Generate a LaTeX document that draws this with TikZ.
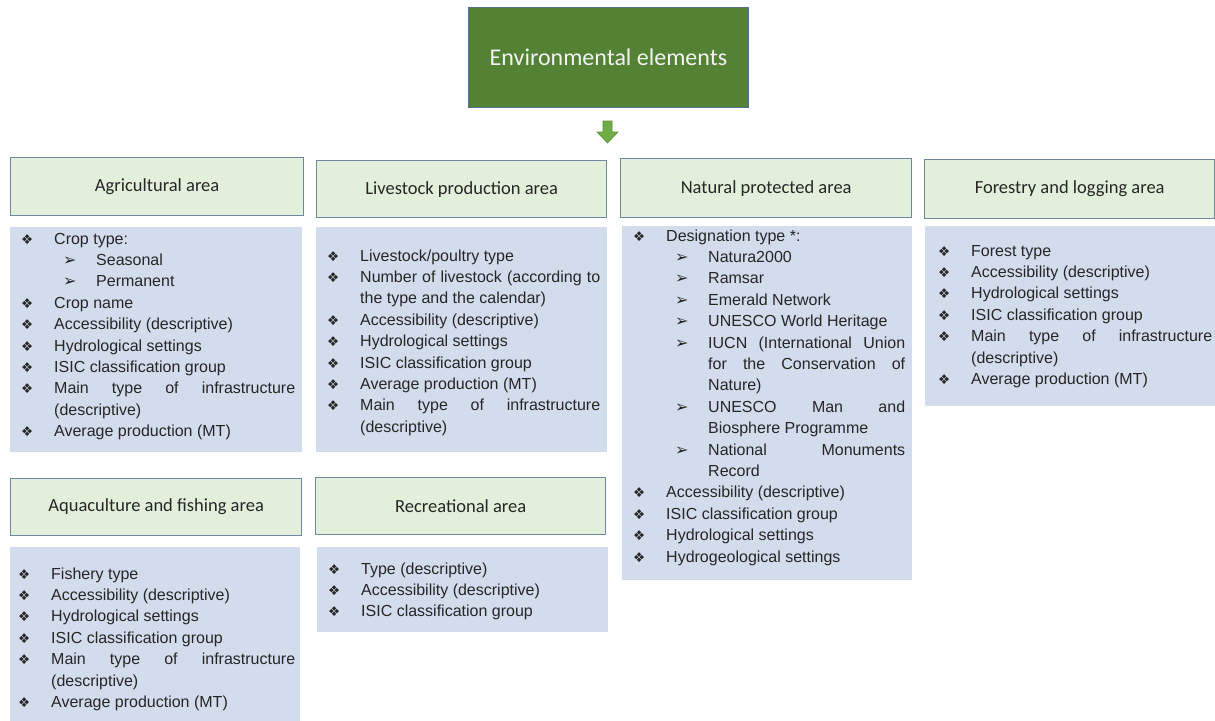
\documentclass[tikz,border=0pt]{standalone}
\usepackage{fontspec}
\setmainfont{Liberation Sans}
\newfontfamily\hdrfont{Carlito}
\newfontfamily\symfont{DejaVu Sans}
\usetikzlibrary{calc}

\definecolor{titlegreen}{HTML}{548235}
\definecolor{titleedge}{HTML}{56708C}
\definecolor{hdrfill}{HTML}{E2EFDA}
\definecolor{hdredge}{HTML}{6F87A3}
\definecolor{bodyfill}{HTML}{D2DCEC}
\definecolor{txt}{HTML}{262626}
\definecolor{arrowgreen}{HTML}{6FAC46}
\definecolor{arrowedge}{HTML}{5A8F38}

% no hyphenation, loose justified lines allowed
\hyphenpenalty=10000
\exhyphenpenalty=10000
\tolerance=10000

% list markers
\newcommand{\dia}{{\symfont\fontsize{13.5}{13.5}\selectfont\color{txt}❖}}
\newcommand{\chev}{{\symfont\fontsize{16}{16}\selectfont ➢}}
% main item and sub item with hanging indent
\newcommand{\itm}[1]{\noindent\hangindent=33pt\hangafter=1\relax\makebox[33pt][l]{\dia}#1\par}
\newcommand{\subitm}[1]{\noindent\hangindent=75pt\hangafter=1\relax\hspace*{42pt}\makebox[33pt][l]{\chev}#1\par}

\tikzset{
  titlebox/.style={draw=titleedge, line width=1pt, fill=titlegreen, text=white!95!black,
    anchor=north west, inner sep=0pt, font=\hdrfont\fontsize{24}{28}\selectfont},
  hdr/.style={draw=hdredge, line width=1.3pt, fill=hdrfill, anchor=north west,
    inner sep=0pt, text=txt, font=\hdrfont\fontsize{18.5}{22}\selectfont},
  bodybox/.style={fill=bodyfill, anchor=north west, inner sep=0pt},
  bodytext/.style={anchor=base west, inner sep=0pt, align=justify, text=txt,
    font=\fontsize{16}{21.4}\selectfont},
}

\begin{document}
\begin{tikzpicture}[x=1pt,y=-1pt]
\useasboundingbox (0,0) rectangle (1215,720);
\fill[white] (0,0) rectangle (1215,720);

% title and arrow
\node[titlebox, minimum width=280pt, minimum height=100pt] (title) at (468,7) {Environmental elements};
\fill[arrowgreen, draw=arrowedge, line width=0.6pt]
  (603,121) -- (612,121) -- (612,132) -- (618,132) -- (607.5,143) -- (597,132) -- (603,132) -- cycle;

% headers
\node[hdr, minimum width=293pt, minimum height=58pt] (aghdr) at (10,157) {Agricultural area};
\node[hdr, minimum width=290pt, minimum height=57pt] (lvhdr) at (316,160) {Livestock production area};
\node[hdr, minimum width=291pt, minimum height=59pt] (nphdr) at (620,158) {Natural protected area};
\node[hdr, minimum width=290pt, minimum height=59pt] (fohdr) at (924,159) {Forestry and logging area};
\node[hdr, minimum width=291pt, minimum height=57pt] (aqhdr) at (10,478) {Aquaculture and fishing area};
\node[hdr, minimum width=290pt, minimum height=57pt] (rchdr) at (315,477) {Recreational area};

% body panels
\node[bodybox, minimum width=292pt, minimum height=225pt] (agbody) at (10,227) {};
\node[bodybox, minimum width=291pt, minimum height=225pt] (lvbody) at (316,227) {};
\node[bodybox, minimum width=290pt, minimum height=354pt] (npbody) at (622,226) {};
\node[bodybox, minimum width=290pt, minimum height=180pt] (fobody) at (925,226) {};
\node[bodybox, minimum width=290pt, minimum height=180pt] (aqbody) at (10,547) {};
\node[bodybox, minimum width=291pt, minimum height=85pt] (rcbody) at (317,547) {};

% body texts
\node[bodytext, text width=274pt] (agtext) at ($(agbody.north west)+(11,17)$) {%
\itm{Crop type:}
\subitm{Seasonal}
\subitm{Permanent}
\itm{Crop name}
\itm{Accessibility (descriptive)}
\itm{Hydrological settings}
\itm{ISIC classification group}
\itm{Main type of infrastructure\linebreak (descriptive)}
\itm{Average production (MT)}};

\node[bodytext, text width=273pt] (lvtext) at ($(lvbody.north west)+(11,34)$) {%
\itm{Livestock/poultry type}
\itm{Number of livestock (according to\linebreak the type and the calendar)}
\itm{Accessibility (descriptive)}
\itm{Hydrological settings}
\itm{ISIC classification group}
\itm{Average production (MT)}
\itm{Main type of infrastructure\linebreak (descriptive)}};

\node[bodytext, text width=272pt] (nptext) at ($(npbody.north west)+(11,15)$) {%
\itm{Designation type *:}
\subitm{Natura2000}
\subitm{Ramsar}
\subitm{Emerald Network}
\subitm{UNESCO World Heritage}
\subitm{IUCN (International Union\linebreak for the Conservation of\linebreak Nature)}
\subitm{UNESCO Man and\linebreak Biosphere Programme}
\subitm{National Monuments\linebreak Record}
\itm{Accessibility (descriptive)}
\itm{ISIC classification group}
\itm{Hydrological settings}
\itm{Hydrogeological settings}};

\node[bodytext, text width=274pt] (fotext) at ($(fobody.north west)+(13,30)$) {%
\itm{Forest type}
\itm{Accessibility (descriptive)}
\itm{Hydrological settings}
\itm{ISIC classification group}
\itm{Main type of infrastructure\linebreak (descriptive)}
\itm{Average production (MT)}};

\node[bodytext, text width=277pt] (aqtext) at ($(aqbody.north west)+(8,32)$) {%
\itm{Fishery type}
\itm{Accessibility (descriptive)}
\itm{Hydrological settings}
\itm{ISIC classification group}
\itm{Main type of infrastructure\linebreak (descriptive)}
\itm{Average production (MT)}};

\node[bodytext, text width=273pt] (rctext) at ($(rcbody.north west)+(11,27)$) {%
\itm{Type (descriptive)}
\itm{Accessibility (descriptive)}
\itm{ISIC classification group}};
\end{tikzpicture}
\end{document}
